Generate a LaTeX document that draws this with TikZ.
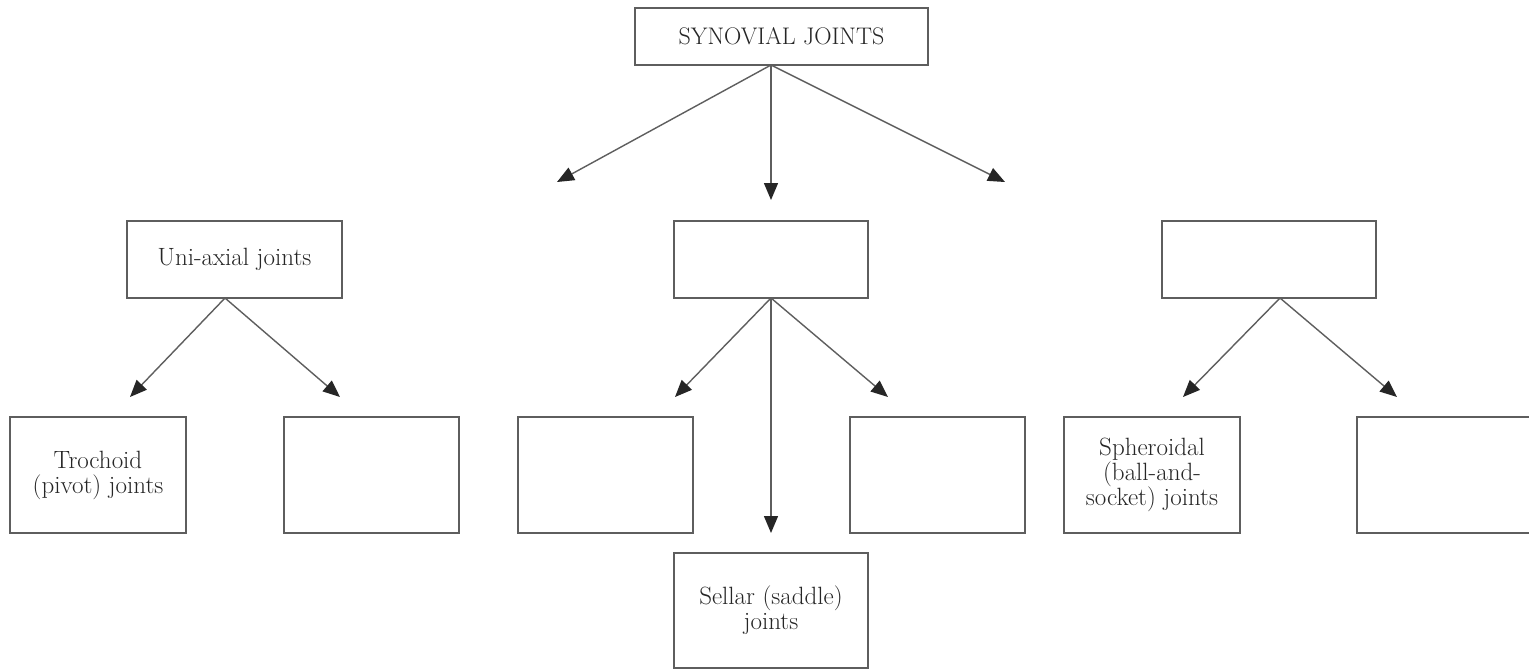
\documentclass[tikz,border=0pt]{standalone}
\usetikzlibrary{arrows.meta}
\definecolor{linegray}{HTML}{5E5E5E}
\definecolor{textgray}{HTML}{262626}
\begin{document}
\begin{tikzpicture}[x=1pt,y=-1pt,
  boxnode/.style={draw=linegray, line width=2pt, inner sep=0pt, text=textgray, align=center,
     font=\fontsize{25}{25}\selectfont},
  conn/.style={draw=linegray, line width=1.4pt, -{Triangle[length=17pt,width=14pt,fill=black!85,color=black!85]}}]
\useasboundingbox (0,0) rectangle (1529,670);
\fill[white] (0,0) rectangle (1529,670);
% boxes
\node[boxnode, minimum width=293pt, minimum height=57pt, font=\fontsize{24}{25}\selectfont] (top) at (781.5,36.5) {SYNOVIAL JOINTS};
\node[boxnode, minimum width=215pt, minimum height=77pt] (uni) at (234.5,259.5) {Uni-axial joints};
\node[boxnode, minimum width=194pt, minimum height=77pt] (mid) at (771,259.5) {};
\node[boxnode, minimum width=214pt, minimum height=77pt] (rgt) at (1269,259.5) {};
\node[boxnode, minimum width=176pt, minimum height=116pt] (tro) at (98,475) {Trochoid\\(pivot) joints};
\node[boxnode, minimum width=175pt, minimum height=116pt] (b2) at (371.5,475) {};
\node[boxnode, minimum width=175pt, minimum height=116pt] (b3) at (605.5,475) {};
\node[boxnode, minimum width=175pt, minimum height=116pt] (b4) at (937.5,475) {};
\node[boxnode, minimum width=176pt, minimum height=116pt] (sph) at (1152,475) {Spheroidal\\(ball-and-\\socket) joints};
\node[boxnode, minimum width=180pt, minimum height=116pt] (b6) at (1447,475) {};
\node[boxnode, minimum width=194pt, minimum height=115pt] (sel) at (771,610.5) {Sellar (saddle)\\joints};
% connector anchors
\coordinate (topo) at (771,65);
\coordinate (tl) at (557,182);
\coordinate (tm) at (771,200);
\coordinate (tr) at (1005,182);
\coordinate (unio) at (225,298);
\coordinate (ul) at (130,397);
\coordinate (ur) at (340,397);
\coordinate (mido) at (771,298);
\coordinate (ml) at (675,397);
\coordinate (mr) at (888,397);
\coordinate (md) at (771,533);
\coordinate (rgto) at (1280,298);
\coordinate (rl) at (1183,397);
\coordinate (rr) at (1397,397);
% connectors
\draw[conn] (topo) -- (tl);
\draw[conn] (topo) -- (tm);
\draw[conn] (topo) -- (tr);
\draw[conn] (unio) -- (ul);
\draw[conn] (unio) -- (ur);
\draw[conn] (mido) -- (ml);
\draw[conn] (mido) -- (mr);
\draw[conn] (mido) -- (md);
\draw[conn] (rgto) -- (rl);
\draw[conn] (rgto) -- (rr);
\end{tikzpicture}
\end{document}
